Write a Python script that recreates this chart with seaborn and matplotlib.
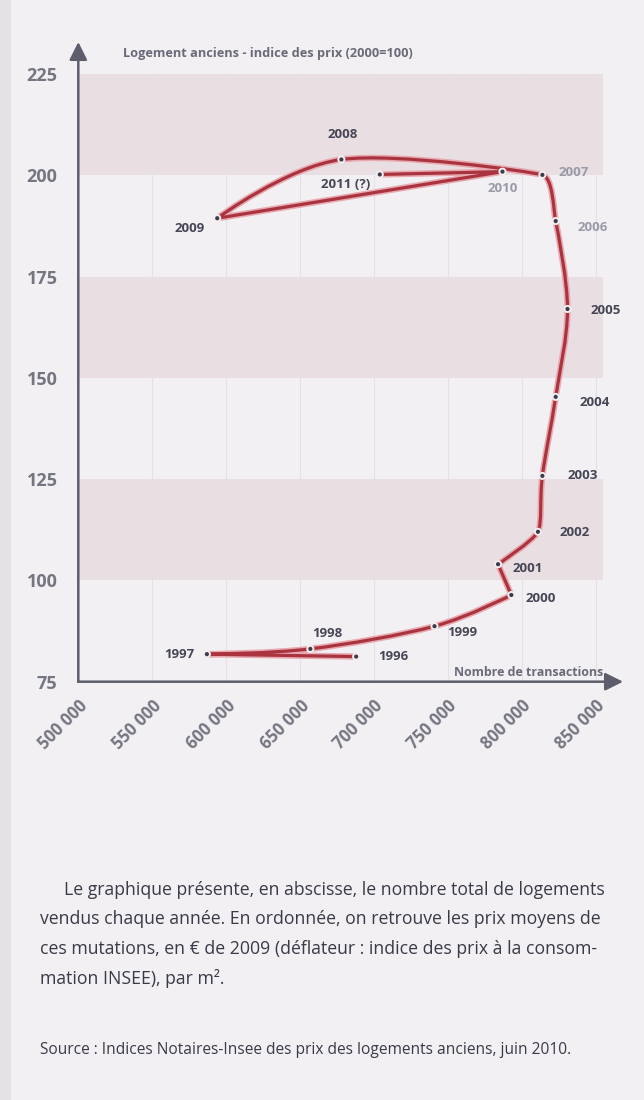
import numpy as np
import pandas as pd
import seaborn as sns
import matplotlib
matplotlib.use('Agg')
import matplotlib.pyplot as plt
from matplotlib.path import Path
from matplotlib.patches import PathPatch, Rectangle

# donnees
years = ['1996', '1997', '1998', '1999', '2000', '2001', '2002', '2003',
         '2004', '2005', '2006', '2007', '2008', '2009', '2010', '2011 (?)']
transactions = [688000, 587000, 657000, 741000, 793000, 784000, 811000, 814000,
                823000, 831000, 823000, 814000, 678000, 594000, 787000, 704000]
price_index = [81.2, 81.8, 83.1, 88.7, 96.4, 104.0, 112.0, 125.8,
               145.3, 167.0, 188.7, 200.1, 203.9, 189.4, 200.9, 200.2]
# points ou la courbe fait demi-tour
cusps = ['1996', '1997', '2000', '2001', '2009', '2010', '2011 (?)']

x_ticks = [500000, 550000, 600000, 650000, 700000, 750000, 800000, 850000]
y_ticks = [75, 100, 125, 150, 175, 200, 225]
bands = [(100, 125), (150, 175), (200, 225)]

df = pd.DataFrame({'annee': years, 'transactions': transactions, 'indice': price_index})

# position des etiquettes (pixels depuis le point) : dx, dy, ha
label_pos = {
    '1996': (22, 0, 'left'), '1997': (-13, 0, 'right'), '1998': (17, 15, 'center'),
    '1999': (13, -6, 'left'), '2000': (14, -3, 'left'), '2001': (14, -4, 'left'),
    '2002': (22, -1, 'left'), '2003': (25, 0, 'left'), '2004': (24, -6, 'left'),
    '2005': (23, -2, 'left'), '2006': (22, -6, 'left'), '2007': (16, 2, 'left'),
    '2008': (1, 25, 'center'), '2009': (-12, -10, 'right'), '2010': (0, -17, 'center'),
    '2011 (?)': (-10, -10, 'right'),
}
faded = ['2006', '2007', '2010']
# raideur locale de la courbe
soft = {'2007': 0.3, '2006': 0.6, '2002': 0.6}

BG = '#f2f0f2'
AXC = '#5d5d6c'
TXT = '#464656'

sns.set_theme(style='white')
plt.rcParams['font.family'] = ['Open Sans', 'DejaVu Sans']

fig = plt.figure(figsize=(6.44, 11.0), dpi=100, facecolor=BG)
fig.patches.append(Rectangle((0, 0), 11 / 644, 1, transform=fig.transFigure,
                             color='#e4e2e6', lw=0, zorder=0))
ax = fig.add_axes([78.3 / 644, 1 - 681.7 / 1100, (623 - 78.3) / 644, (681.7 - 42) / 1100])
ax.set_facecolor(BG)
ax.set_xlim(500000, 868550)
ax.set_ylim(75, 232.9)

# bandes roses
band_end = (855000 - 500000) / (868550 - 500000)
for lo, hi in bands:
    ax.axhspan(lo, hi, xmin=0, xmax=band_end, color='#e9dfe3', lw=0, zorder=0)
for xt in x_ticks[1:]:
    ax.plot([xt, xt], [75, 225], color='#e4e0e4', lw=0.8, zorder=0.5)

# courbe lissee (Catmull-Rom -> Bezier)
pts = df[['transactions', 'indice']].to_numpy(dtype=float)
n = len(pts)
tang = np.zeros_like(pts)
for i in range(n):
    if years[i] in cusps:
        continue
    tang[i] = (pts[min(i + 1, n - 1)] - pts[max(i - 1, 0)]) / 6.0 * soft.get(years[i], 1.0)
verts = [tuple(pts[0])]
codes = [Path.MOVETO]
for i in range(n - 1):
    verts += [tuple(pts[i] + tang[i]), tuple(pts[i + 1] - tang[i + 1]), tuple(pts[i + 1])]
    codes += [Path.CURVE4] * 3
path = Path(verts, codes)
ax.add_patch(PathPatch(path, fc='none', ec='#e9a9b0', lw=4.6, capstyle='round',
                       joinstyle='round', zorder=2))
ax.add_patch(PathPatch(path, fc='none', ec='#a93440', lw=2.3, capstyle='round',
                       joinstyle='round', zorder=3))

sns.scatterplot(data=df, x='transactions', y='indice', s=34, color='#f3eef0',
                edgecolor='none', ax=ax, zorder=4, legend=False)
sns.scatterplot(data=df, x='transactions', y='indice', s=9, color='#3b3b4b',
                edgecolor='none', ax=ax, zorder=5, legend=False)

for yr, xv, yv in zip(years, transactions, price_index):
    dx, dy, ha = label_pos[yr]
    col = '#9a9aa8' if yr in faded else TXT
    ax.annotate(yr, (xv, yv), xytext=(dx, dy), textcoords='offset pixels',
                ha=ha, va='center', fontsize=9.5, fontweight='bold', color=col, zorder=6)

# axes avec fleches
for s in ax.spines.values():
    s.set_visible(False)
ax.annotate('', xy=(1, 0), xytext=(0, 0), xycoords='axes fraction',
            arrowprops=dict(arrowstyle='-|>,head_length=0.9,head_width=0.45',
                            color=AXC, lw=1.8, shrinkA=0, shrinkB=0))
ax.annotate('', xy=(0, 1), xytext=(0, 0), xycoords='axes fraction',
            arrowprops=dict(arrowstyle='-|>,head_length=0.9,head_width=0.45',
                            color=AXC, lw=1.8, shrinkA=0, shrinkB=0))

ax.set_xticks(x_ticks)
ax.set_xticklabels([f'{v:,}'.replace(',', ' ') for v in x_ticks], rotation=45,
                   ha='right', rotation_mode='anchor', fontsize=12, fontweight='bold',
                   color='#767682')
ax.set_yticks(y_ticks)
ax.set_yticklabels([str(v) for v in y_ticks], fontsize=13, fontweight='bold', color='#767682')
ax.tick_params(axis='both', length=5, width=1, color=AXC, direction='out')
ax.tick_params(axis='x', pad=6)
ax.tick_params(axis='y', pad=10)
ax.set_xlabel('')
ax.set_ylabel('')

fig.text(123 / 644, 1 - 53 / 1100, 'Logement anciens - indice des prix (2000=100)',
         fontsize=9.2, fontweight='bold', color='#6a6a78', va='center', ha='left')
fig.text(603 / 644, 1 - 673 / 1100, 'Nombre de transactions',
         fontsize=8.9, fontweight='bold', color='#6a6a78', va='center', ha='right')

para = ['Le graphique présente, en abscisse, le nombre total de logements',
        'vendus chaque année. En ordonnée, on retrouve les prix moyens de',
        'ces mutations, en € de 2009 (déflateur : indice des prix à la consom-',
        'mation INSEE), par m².']
para_x = [64, 40, 40, 40]
para_y = [890, 919, 949, 978]
for t, px, py in zip(para, para_x, para_y):
    fig.text(px / 644, 1 - py / 1100, t, fontsize=12.7, color='#3a3a48', va='center', ha='left')
fig.text(40 / 644, 1 - 1050 / 1100,
         'Source : Indices Notaires-Insee des prix des logements anciens, juin 2010.',
         fontsize=11.2, color='#3a3a48', va='center', ha='left')

fig.savefig('out.png', dpi=100, facecolor=BG)
